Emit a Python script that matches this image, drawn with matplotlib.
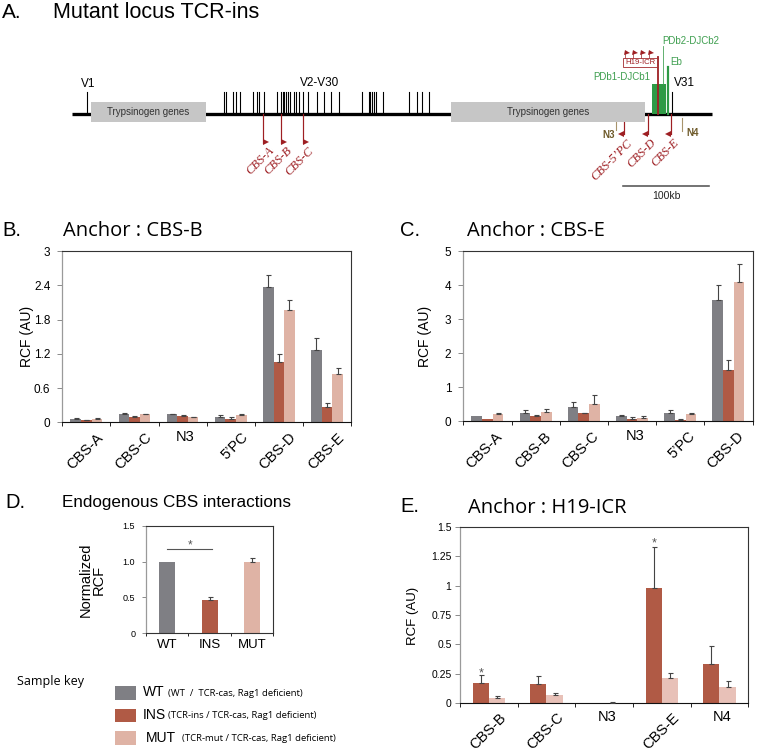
import matplotlib
matplotlib.use("Agg")
import matplotlib.pyplot as plt
from matplotlib.patches import Rectangle
from matplotlib.transforms import offset_copy
import numpy as np

W, H = 760, 751
plt.rcParams['font.family'] = ['Liberation Sans', 'DejaVu Sans']

GREY = '#7f7f84'; RED = '#b05a45'; PINK = '#dfb3a5'; PINK_E = '#e8c1b8'
DARKRED = '#9e1f23'; GREEN = '#2e9a45'; GREEN_T = '#3f9f50'
TAN = '#a8946c'; OLIVE = '#6e5a2a'; ERRC = '#444444'

# ---------------- data ----------------
b_cats = ["CBS-A", "CBS-C", "N3", "5\u2019PC", "CBS-D", "CBS-E"]
b_wt = [0.058, 0.152, 0.14, 0.10, 2.37, 1.27]
b_wt_err = [0.018, 0.012, 0.006, 0.03, 0.21, 0.20]
b_ins = [0.035, 0.094, 0.117, 0.058, 1.06, 0.26]
b_ins_err = [0.012, 0.011, 0.012, 0.042, 0.14, 0.085]
b_mut = [0.058, 0.14, 0.088, 0.129, 1.96, 0.85]
b_mut_err = [0.012, 0.012, 0.012, 0.023, 0.18, 0.10]
b_yticks = [0, 0.6, 1.2, 1.8, 2.4, 3]
b_ylabels = ['0', '0.6', '1.2', '1.8', '2.4', '3']

c_cats = ["CBS-A", "CBS-B", "CBS-C", "N3", "5\u2019PC", "CBS-D"]
c_wt = [0.166, 0.254, 0.43, 0.166, 0.254, 3.55]
c_wt_err = [0.0, 0.066, 0.13, 0.02, 0.086, 0.45]
c_ins = [0.08, 0.17, 0.235, 0.06, 0.05, 1.51]
c_ins_err = [0.0, 0.02, 0.019, 0.057, 0.02, 0.30]
c_mut = [0.215, 0.264, 0.5, 0.098, 0.225, 4.08]
c_mut_err = [0.02, 0.086, 0.27, 0.059, 0.02, 0.54]
c_yticks = [0, 1, 2, 3, 4, 5]
c_ylabels = ['0', '1', '2', '3', '4', '5']

d_cats = ["WT", "INS", "MUT"]
d_vals = [1.0, 0.464, 1.0]
d_err = [0.0, 0.046, 0.045]
d_yticks = [0, 0.5, 1.0, 1.5]
d_ylabels = ['0', '0.5', '1.0', '1.5']

e_cats = ["CBS-B", "CBS-C", "N3", "CBS-E", "N4"]
e_ins = [0.176, 0.164, 0.0, 0.977, 0.331]
e_ins_err = [0.065, 0.068, 0.0, 0.353, 0.156]
e_mut = [0.045, 0.071, 0.006, 0.212, 0.142]
e_mut_err = [0.017, 0.019, 0.004, 0.043, 0.048]
e_yticks = [0, 0.25, 0.5, 0.75, 1, 1.25, 1.5]
e_ylabels = ['0', '0.25', '0.5', '0.75', '1', '1.25', '1.5']
e_stars = [(0, 0.29), (3, 1.39)]

# locus schematic (pixel layout)
locus_x = (72, 712); locus_y = 114
tryp_boxes = [(91, 206), (451, 645)]
v_ticks = [224, 225.7, 232.7, 236, 239.7, 253.3, 256.7, 259.3, 264, 276.7,
           280.7, 282.7, 284, 285.7, 287.7, 290, 294, 296, 298.7, 302.7,
           308.3, 316.7, 324, 330.7, 339.3, 361.7, 368.7, 370.3, 372.3,
           374.3, 376.3, 383.3, 409.3, 417.3, 421.7, 429.3]
cbs_fwd = [("CBS-A", 263), ("CBS-B", 281), ("CBS-C", 303)]
cbs_rev = [("CBS-5\u2019PC", 624, 121), ("CBS-D", 648, 114), ("CBS-E", 671, 114)]
icr_flags = [627, 635, 643, 651]

fig = plt.figure(figsize=(W / 100, H / 100), dpi=100)


def px_axes(l, t, r, b):
    return fig.add_axes([l / W, 1 - b / H, (r - l) / W, (b - t) / H])


def ftext(x, y, s, **kw):
    return fig.text(x / W, 1 - y / H, s, **kw)


# ---------------- overlay for schematic ----------------
ax0 = fig.add_axes([0, 0, 1, 1])
ax0.set_xlim(0, W); ax0.set_ylim(H, 0); ax0.axis('off')
px = 0.72

ax0.plot(locus_x, [locus_y, locus_y], color='black', lw=3.3 * px, solid_capstyle='butt', zorder=2)
for (x1, x2) in tryp_boxes:
    ax0.add_patch(Rectangle((x1, 102), x2 - x1, 20, facecolor='#c6c6c6', edgecolor='none', zorder=3))
    ax0.text((x1 + x2) / 2, 112, "Trypsinogen genes", fontsize=7, color='#333333',
             ha='center', va='center', zorder=4)
for x in v_ticks + [87, 672]:
    ax0.plot([x, x], [92, locus_y], color='black', lw=1.1 * px, zorder=2)
ax0.text(88, 84, "V1", fontsize=8.5, ha='center', va='center')
ax0.text(320, 83, "V2-V30", fontsize=8.5, ha='center', va='center')
ax0.text(674, 83, "V31", fontsize=8.5, ha='left', va='center')

for name, x in cbs_fwd:
    ax0.plot([x, x], [locus_y, 143], color=DARKRED, lw=1.2 * px, zorder=2)
    ax0.plot([x + 3], [142], marker='>', ms=4.2, color=DARKRED, mew=0, zorder=3)
    ax0.text(x + 5, 145, name, fontsize=9, color=DARKRED, style='italic',
             family='Liberation Serif', rotation=45, ha='right', va='top',
             rotation_mode='anchor')
for name, x, y0 in cbs_rev:
    ax0.plot([x, x], [y0, 134], color=DARKRED, lw=1.2 * px, zorder=2)
    ax0.plot([x - 3], [133.5], marker='<', ms=4.2, color=DARKRED, mew=0, zorder=3)
    ax0.text(x + 2, 137, name, fontsize=9, color=DARKRED, style='italic',
             family='Liberation Serif', rotation=45, ha='right', va='top',
             rotation_mode='anchor')

# N3 / N4
ax0.plot([616, 616], [122, 130], color=TAN, lw=1.1 * px)
ax0.text(615, 134.5, "N3", fontsize=7, color=OLIVE, weight='bold', ha='right', va='center')
ax0.plot([682, 682], [118, 131], color=TAN, lw=1.1 * px)
ax0.text(686, 133, "N4", fontsize=7, color=OLIVE, weight='bold', ha='left', va='center')

# green elements
ax0.add_patch(Rectangle((651.7, 84), 14, locus_y - 84, facecolor=GREEN, edgecolor='none', zorder=3))
ax0.plot([668, 668], [67, locus_y], color=GREEN, lw=2.2 * px, zorder=3)
ax0.plot([662.7, 662.7], [46, 84], color=GREEN_T, lw=0.8 * px, zorder=3)
ax0.text(662, 41, "PDb2-DJCb2", fontsize=7, color=GREEN_T, ha='left', va='center')
ax0.text(670, 62, "Eb", fontsize=7, color=GREEN_T, ha='left', va='center')
ax0.text(650, 77, "PDb1-DJCb1", fontsize=7, color=GREEN_T, ha='right', va='center')

# H19-ICR insertion
ax0.plot([658.3, 658.3], [57, locus_y], color=DARKRED, lw=1.8 * px, zorder=4)
ax0.add_patch(Rectangle((623, 58), 34, 9, facecolor='white', edgecolor=DARKRED, lw=0.8 * px, zorder=4))
ax0.text(640, 62.7, "H19-ICR", fontsize=5.6, color=DARKRED, ha='center', va='center', zorder=5)
for x in icr_flags:
    ax0.plot([x - 2, x - 2], [52, 58], color=DARKRED, lw=0.7 * px)
    ax0.plot([x], [52.5], marker='>', ms=3.6, color=DARKRED, mew=0)

# scale bar
ax0.plot([623, 709], [186, 186], color='#555555', lw=1.6 * px)
ax0.text(666, 196, "100kb", fontsize=7.5, color='#222222', ha='center', va='center')

# titles
ftext(2, 12, "A.", fontsize=15, va='center')
ftext(53, 12, "Mutant locus TCR-ins", fontsize=15.5, va='center')
ftext(2, 231, "B.", fontsize=14.5, va='center')
ftext(63, 231, "Anchor : CBS-B", fontsize=14.5, family='Open Sans', va='center')
ftext(400, 231, "C.", fontsize=14.5, va='center')
ftext(467, 231, "Anchor : CBS-E", fontsize=14.5, family='Open Sans', va='center')
ftext(5, 503, "D.", fontsize=14.5, va='center')
ftext(62, 503, "Endogenous CBS interactions", fontsize=12.3, va='center')
ftext(400, 507, "E.", fontsize=14.5, va='center')
ftext(468, 508, "Anchor : H19-ICR", fontsize=14.5, family='Open Sans', va='center')


# ---------------- helpers ----------------
def style_axes(ax, n, ylim, yticks, ylabels, fs, pad):
    ax.set_xlim(-0.5, n - 0.5)
    ax.set_ylim(*ylim)
    ax.set_yticks(yticks)
    ax.set_yticklabels(ylabels, fontsize=fs)
    ax.tick_params(axis='y', length=3.6, width=0.7, color='#8a8a8a', pad=pad)
    ax.set_xticks(np.arange(-0.5, n, 1.0))
    ax.set_xticklabels([])
    ax.tick_params(axis='x', length=3.0, width=0.7, color='#222222', direction='out')
    for s in ['top', 'right']:
        ax.spines[s].set_color('#333333'); ax.spines[s].set_linewidth(0.8)
    ax.spines['left'].set_color('#9a9a9a'); ax.spines['left'].set_linewidth(0.9)
    ax.spines['bottom'].set_color('#111111'); ax.spines['bottom'].set_linewidth(0.8)


def errs(ax, x, v, e):
    x = np.asarray(x); v = np.asarray(v); e = np.asarray(e)
    m = e > 0
    ax.errorbar(x[m], v[m], yerr=[np.zeros(m.sum()), e[m]], fmt='none',
                ecolor=ERRC, elinewidth=0.8, capsize=1.8, capthick=0.8, zorder=3)


def xlabels(ax, cats, fs, dx, dy):
    for i, c in enumerate(cats):
        if c in ("N3", "N4"):
            tr = offset_copy(ax.get_xaxis_transform(), fig=fig, x=3, y=-dy, units='dots')
            ax.text(i, 0, c, transform=tr, fontsize=fs, ha='center', va='top')
        else:
            tr = offset_copy(ax.get_xaxis_transform(), fig=fig, x=dx, y=-dy, units='dots')
            ax.text(i, 0, c, transform=tr, fontsize=fs, rotation=45, ha='right',
                    va='top', rotation_mode='anchor')


def three_bar(ax, cats, series, w=0.22):
    x = np.arange(len(cats))
    for k, (vals, err, col) in enumerate(series):
        xx = x + (k - 1) * w
        ax.bar(xx, vals, width=w, color=col, edgecolor='none', zorder=2)
        errs(ax, xx, vals, err)


# ---------------- panel B ----------------
axB = px_axes(62.3, 251, 351, 422.3)
three_bar(axB, b_cats, [(b_wt, b_wt_err, GREY), (b_ins, b_ins_err, RED), (b_mut, b_mut_err, PINK)])
style_axes(axB, len(b_cats), (0, 3), b_yticks, b_ylabels, 8.5, 5)
xlabels(axB, b_cats, 10.5, 10, 8)
ftext(27, 336, "RCF (AU)", fontsize=10, rotation=90, ha='center', va='center')

# ---------------- panel C ----------------
axC = px_axes(463.3, 251, 752.5, 421.3)
three_bar(axC, c_cats, [(c_wt, c_wt_err, GREY), (c_ins, c_ins_err, RED), (c_mut, c_mut_err, PINK)])
style_axes(axC, len(c_cats), (0, 5), c_yticks, c_ylabels, 8.5, 5)
xlabels(axC, c_cats, 10.5, 8, 8)
ftext(425, 336, "RCF (AU)", fontsize=10, rotation=90, ha='center', va='center')

# ---------------- panel D ----------------
axD = px_axes(146, 525.7, 273.3, 633.3)
xd = np.arange(len(d_cats))
axD.bar(xd, d_vals, width=0.38, color=[GREY, RED, PINK], edgecolor='none', zorder=2)
errs(axD, xd, d_vals, d_err)
axD.set_xlim(-0.5, 2.5); axD.set_ylim(0, 1.5)
axD.set_yticks(d_yticks); axD.set_yticklabels(d_ylabels, fontsize=6.5)
axD.tick_params(axis='y', length=2.8, width=0.7, color='#8a8a8a', pad=5)
axD.set_xticks(np.arange(-0.5, 3, 1.0)); axD.set_xticklabels([])
axD.tick_params(axis='x', length=2.5, width=0.7, color='#222222')
for i, c in enumerate(d_cats):
    trd = offset_copy(axD.get_xaxis_transform(), fig=fig, x=0, y=-6, units='dots')
    axD.text(i, 0, c, transform=trd, fontsize=9.5, ha='center', va='top')
for s in ['top', 'right', 'bottom']:
    axD.spines[s].set_color('#333333'); axD.spines[s].set_linewidth(0.8)
axD.spines['left'].set_color('#9a9a9a'); axD.spines['left'].set_linewidth(0.9)
axD.plot([0, 1.06], [1.17, 1.17], color='#555555', lw=0.8)
trD = offset_copy(axD.transData, fig=fig, x=0, y=-6, units='dots')
axD.text(0.53, 1.26, "*", transform=trD, fontsize=8.5, color='#555555', ha='center', va='baseline')
ftext(92, 580, "Normalized\nRCF", fontsize=10.5, rotation=90, ha='center', va='center', linespacing=0.95)

# ---------------- sample key ----------------
ftext(17, 682, "Sample key", fontsize=9, family='Open Sans', va='center')
key = [("WT", "(WT  /  TCR-cas, Rag1 deficient)", GREY, 686, 143, 168),
       ("INS", "(TCR-ins / TCR-cas, Rag1 deficient)", RED, 708.5, 143, 168),
       ("MUT", "(TCR-mut / TCR-cas, Rag1 deficient)", PINK, 731, 146, 181.5)]
for lab, sub, col, y, xl, xs in key:
    ax0.add_patch(Rectangle((115, y), 21, 13.5, facecolor=col, edgecolor='none'))
    ax0.text(xl, y + 6.5, lab, fontsize=10, ha='left', va='center')
    ax0.text(xs, y + 7.5, sub, fontsize=6.8, family='Open Sans', ha='left', va='center')

# ---------------- panel E ----------------
axE = px_axes(460, 526.7, 748.3, 703.3)
xe = np.arange(len(e_cats))
wE = 0.28
axE.bar(xe - wE / 2, e_ins, width=wE, color=RED, edgecolor='none', zorder=2)
axE.bar(xe + wE / 2, e_mut, width=wE, color=PINK_E, edgecolor='none', zorder=2)
errs(axE, xe - wE / 2, e_ins, e_ins_err)
errs(axE, xe + wE / 2, e_mut, e_mut_err)
style_axes(axE, len(e_cats), (0, 1.5), e_yticks, e_ylabels, 7.5, 2.5)
xlabels(axE, e_cats, 10.5, 10, 7)
trE = offset_copy(axE.transData, fig=fig, x=0, y=-7, units='dots')
for i, yv in e_stars:
    axE.text(i - wE / 2, yv, "*", transform=trE, fontsize=9, color='#555555', ha='center', va='baseline')
ftext(413, 616, "RCF (AU)", fontsize=9.5, rotation=90, ha='center', va='center')

fig.savefig("out.png", dpi=100)
